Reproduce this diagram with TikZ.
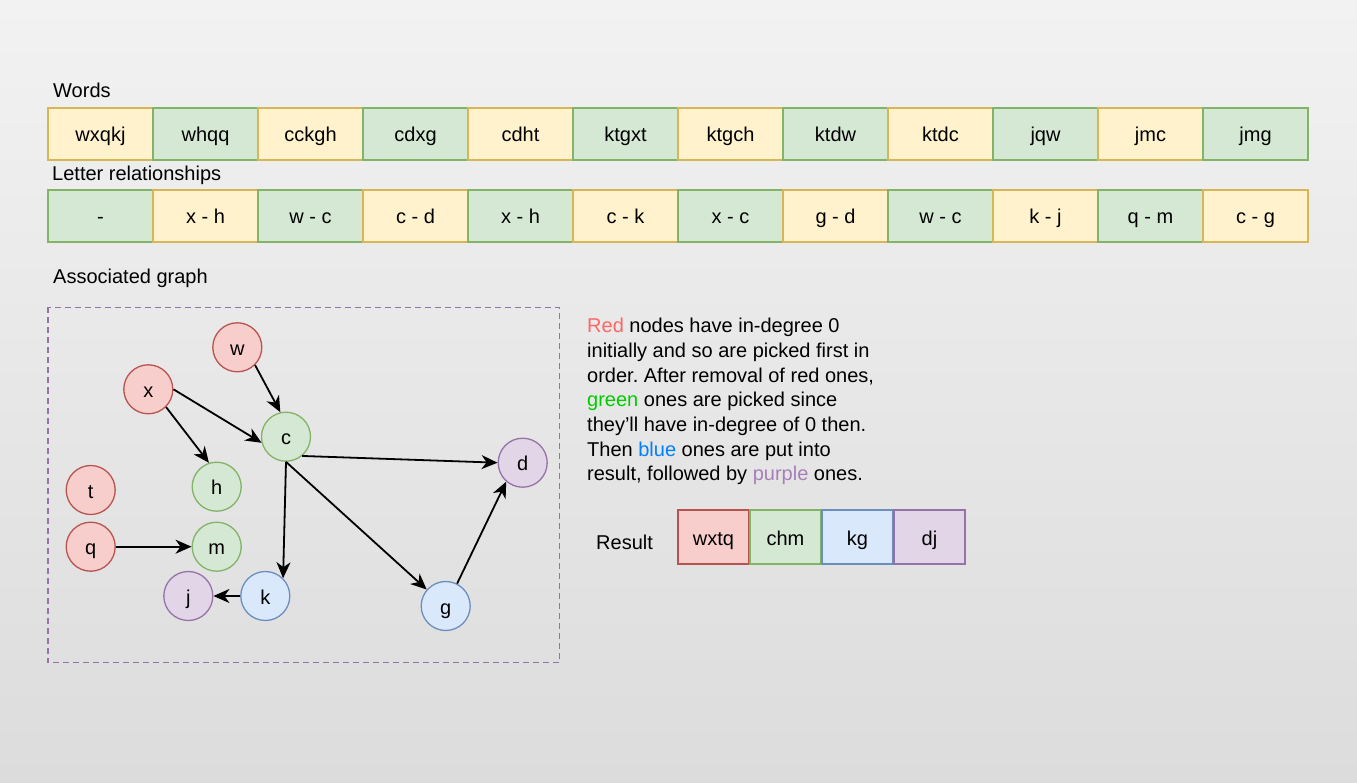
\documentclass[tikz,border=0pt]{standalone}
\usepackage{fontspec}
\setmainfont{Liberation Sans}
\usetikzlibrary{arrows.meta}
\definecolor{bgtop}{HTML}{F2F2F2}
\definecolor{bgbot}{HTML}{DCDCDC}
\definecolor{yelfill}{HTML}{FFF2CC}
\definecolor{yelline}{HTML}{D6B656}
\definecolor{grnfill}{HTML}{D5E8D4}
\definecolor{grnline}{HTML}{82B366}
\definecolor{redfill}{HTML}{F8CECC}
\definecolor{redline}{HTML}{B85450}
\definecolor{blufill}{HTML}{DAE8FC}
\definecolor{bluline}{HTML}{6C8EBF}
\definecolor{purfill}{HTML}{E1D5E7}
\definecolor{purline}{HTML}{9673A6}
\definecolor{txtred}{HTML}{FF6666}
\definecolor{txtgreen}{HTML}{00CC00}
\definecolor{txtblue}{HTML}{007FFF}
\definecolor{txtpurple}{HTML}{A680B8}
\frenchspacing

\begin{document}
\begin{tikzpicture}[x=1pt,y=-1pt,
  every node/.style={font=\fontsize{20}{24}\selectfont},
  cell/.style={draw,minimum width=105pt,minimum height=52pt,inner sep=0pt,line width=1.3pt,text height=18pt,text depth=2pt},
  rbox/.style={draw,minimum width=71pt,minimum height=54pt,inner sep=0pt,line width=1.3pt,text height=18pt,text depth=2pt},
  vert/.style={circle,draw,minimum size=49pt,inner sep=0pt,line width=1.3pt,text height=18pt,text depth=2pt},
  cyel/.style={fill=yelfill,draw=yelline},
  cgrn/.style={fill=grnfill,draw=grnline},
  vred/.style={fill=redfill,draw=redline},
  vgreen/.style={fill=grnfill,draw=grnline},
  vblue/.style={fill=blufill,draw=bluline},
  vpurple/.style={fill=purfill,draw=purline},
  label/.style={anchor=base west,inner sep=0pt},
  link/.style={-{Stealth[length=16pt,width=14pt,inset=5pt]},line width=1.8pt}]
\shade[top color=bgtop,bottom color=bgbot] (0,0) rectangle (1357,783);

\node[label] (lblwords) at (53,98) {Words};
\foreach \w/\s [count=\i] in {wxqkj/cyel,whqq/cgrn,cckgh/cyel,cdxg/cgrn,cdht/cyel,ktgxt/cgrn,ktgch/cyel,ktdw/cgrn,ktdc/cyel,jqw/cgrn,jmc/cyel,jmg/cgrn}
  \node[cell,\s] (word\i) at (105*\i-4.5,134) {\w};

\node[label] (lblrel) at (52,181) {Letter relationships};
\foreach \r/\s [count=\i] in {-/cgrn,x - h/cyel,w - c/cgrn,c - d/cyel,x - h/cgrn,c - k/cyel,x - c/cgrn,g - d/cyel,w - c/cgrn,k - j/cyel,q - m/cgrn,c - g/cyel}
  \node[cell,\s] (rel\i) at (105*\i-4.5,216) {\r};

\node[label] (lblgraph) at (53,284) {Associated graph};
\draw[purline,dash pattern=on 6pt off 4pt,line width=1.5pt] (48,307.5) rectangle (559.5,662.7);

\node[vert,vred] (w) at (237.3,347.3) {w};
\node[vert,vred] (x) at (148.3,389.3) {x};
\node[vert,vgreen] (c) at (286,436.7) {c};
\node[vert,vgreen] (h) at (216.7,486.7) {h};
\node[vert,vpurple] (d) at (522.7,462.7) {d};
\node[vert,vred] (t) at (90.7,490) {t};
\node[vert,vred] (q) at (90.7,546.7) {q};
\node[vert,vgreen] (m) at (216.7,546.7) {m};
\node[vert,vpurple] (j) at (188.3,596) {j};
\node[vert,vblue] (k) at (265.3,596) {k};
\node[vert,vblue] (g) at (445.7,606) {g};

\draw[link] (w.south east) -- (c.103);
\draw[link] (x.east) -- (c.194);
\draw[link] (x.south east) -- (h.108);
\draw[link] (c.-50) -- (d.west);
\draw[link] (c.south) -- (k.north east);
\draw[link] (c.south) -- (g.139);
\draw[link] (g.63) -- (d.229);
\draw[link] (q.east) -- (m.west);
\draw[link] (k.west) -- (j.east);

\foreach \t [count=\i from 0] in {{\textcolor{txtred}{Red} nodes have in-degree 0},{initially and so are picked first in},{order. After removal of red ones,},{\textcolor{txtgreen}{green} ones are picked since},{they'll have in-degree of 0 then.},{Then \textcolor{txtblue}{blue} ones are put into},{result, followed by \textcolor{txtpurple}{purple} ones.}}
  \node[label] (note\i) at (587,332.7+24.7*\i) {\t};

\node[label] (lblresult) at (596,549) {Result};
\foreach \r/\s [count=\i] in {wxtq/vred,chm/vgreen,kg/vblue,dj/vpurple}
  \node[rbox,\s] (res\i) at (641.5+72*\i,537) {\r};
\end{tikzpicture}
\end{document}
